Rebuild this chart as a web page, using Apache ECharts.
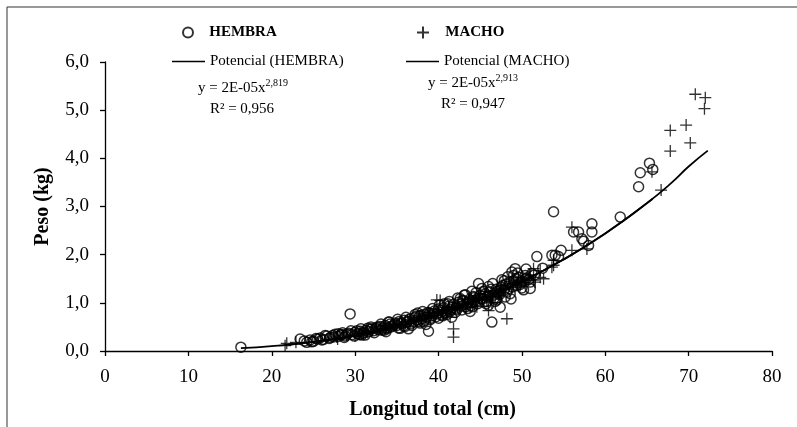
<!DOCTYPE html>
<html>
<head>
<meta charset="utf-8">
<script src="https://cdn.jsdelivr.net/npm/echarts@6/dist/echarts.min.js"></script>
<style>html,body{margin:0;padding:0;background:#fff}#c{width:797px;height:427px}</style>
</head>
<body>
<div id="c"></div>
<script>
const xTicks = [0, 10, 20, 30, 40, 50, 60, 70, 80];
const yTicks = [0, 1, 2, 3, 4, 5, 6];

const hembraX = [16.3,23.4,23.9,24.2,24.6,25.0,25.5,25.8,26.2,26.6,27.0,27.3,27.6,28.0,28.4,28.8,29.2,29.4,29.6,30.0,30.3,30.6,30.9,31.3,31.6,32.0,32.2,32.5,32.8,33.0,33.3,33.6,33.9,34.2,34.5,34.8,35.0,35.3,35.6,35.9,36.2,36.5,36.8,37.1,37.4,37.7,38.0,38.3,38.6,38.8,38.9,39.2,39.5,39.8,40.0,40.3,40.6,40.9,41.2,41.5,41.8,42.1,42.4,42.7,43.0,43.2,43.4,43.7,44.0,44.3,44.6,44.8,45.0,45.3,45.6,45.9,46.2,46.4,46.6,46.9,47.2,47.4,47.5,47.8,48.1,48.4,48.8,49.0,49.2,49.4,49.6,49.9,50.2,50.4,50.8,51.2,51.8,52.5,53.6,53.8,54.0,54.4,54.7,56.2,56.8,57.2,57.4,58.0,58.4,58.4,61.8,64.0,64.2,65.3,65.7,
  30.8,33.5,36.0,38.2,40.5,42.0,44.1,45.5,47.0,48.6,50.0,37.5,40.1,42.6,44.5,46.0,47.9,49.0,34.0,31.5,28.5,39.0,41.0,43.5,46.8,48.0,
  24.8,25.3,26.0,26.9,27.4,28.2,28.7,29.0,29.9,30.2,30.5,31.1,31.8,32.3,32.7,33.2,33.8,34.3,34.7,35.2,35.5,35.8,36.3,36.7,37.0,37.3,37.6,37.9,38.4,38.7,39.1,39.4,39.7,40.2,40.4,40.8,41.1,41.4,41.7,42.2,42.5,42.9,43.3,43.6,43.9,44.2,44.4,44.7,45.1,45.4,45.8,46.1,46.3,46.7,47.1,47.3,47.7,48.2,48.5,48.9,49.3,49.8,50.1,50.6,51.0,51.5,
  26.4,28.0,29.5,30.7,31.9,33.1,34.1,35.1,36.1,37.2,38.1,39.3,40.7,41.3,42.3,43.1,44.0,45.2,46.5,47.6,48.3,49.5,50.5,31.2,33.7,36.4,38.5,41.6,43.8,46.0,48.7,51.0,35.4,37.8,40.0,42.8,45.7,47.0];
const hembraY = [0.08,0.25,0.21,0.18,0.23,0.20,0.25,0.27,0.24,0.31,0.28,0.32,0.35,0.30,0.34,0.31,0.37,0.77,0.34,0.39,0.36,0.41,0.37,0.43,0.40,0.46,0.42,0.48,0.44,0.51,0.47,0.53,0.49,0.56,0.52,0.58,0.53,0.61,0.57,0.64,0.59,0.66,0.53,0.69,0.64,0.72,0.67,0.76,0.70,0.41,0.79,0.73,0.83,0.77,0.87,0.80,0.90,0.83,0.93,0.86,0.97,0.89,1.01,0.93,1.04,1.17,0.97,1.07,1.00,1.11,1.04,1.40,1.15,1.08,1.19,1.12,1.23,0.60,1.16,1.28,1.20,0.91,1.33,1.25,1.39,1.30,1.64,1.46,1.71,1.36,1.53,1.42,1.27,1.57,1.48,1.61,1.96,1.72,1.99,2.89,1.99,1.96,2.09,2.47,2.47,2.33,2.28,2.19,2.64,2.47,2.78,3.41,3.70,3.90,3.77,
  0.33,0.43,0.51,0.61,0.73,0.80,0.92,1.02,1.10,1.19,1.31,0.79,0.95,1.09,1.21,1.34,1.46,1.57,0.60,0.47,0.38,0.65,0.76,0.88,1.03,1.12,
  0.19,0.26,0.23,0.26,0.29,0.33,0.28,0.35,0.31,0.42,0.34,0.39,0.45,0.38,0.50,0.43,0.46,0.50,0.55,0.48,0.58,0.52,0.62,0.56,0.60,0.72,0.61,0.74,0.64,0.80,0.68,0.78,0.71,0.84,0.75,0.79,0.98,0.82,0.91,0.85,0.97,1.05,0.92,1.02,0.94,1.13,1.06,0.98,1.09,1.24,1.03,1.14,1.28,1.10,1.24,1.17,1.36,1.22,1.42,1.33,1.50,1.38,1.45,1.52,1.43,1.58,
  0.32,0.36,0.42,0.46,0.50,0.56,0.60,0.66,0.70,0.76,0.82,0.88,0.98,1.03,1.10,1.16,1.24,1.30,1.40,1.48,1.54,1.62,1.70,0.33,0.40,0.46,0.55,0.70,0.82,0.95,1.08,1.30,0.47,0.58,0.68,0.85,0.98,1.06];

const machoX = [21.6,21.8,22.9,27.8,27.9,29.0,30.5,31.5,32.0,33.0,34.0,35.0,36.0,37.0,38.0,39.0,39.8,40.2,40.5,41.0,41.4,41.8,41.8,42.0,42.5,43.0,43.5,44.0,44.5,45.0,45.3,45.5,46.0,46.2,46.5,47.0,47.5,48.0,48.2,48.5,49.0,49.5,50.0,50.5,51.4,51.4,51.6,52.2,52.2,52.6,53.6,53.8,53.8,56.0,56.0,57.8,65.6,66.7,67.8,67.8,69.7,70.2,70.8,72.0,71.9,
  30.0,31.0,32.6,33.6,34.6,35.6,36.6,37.6,38.5,39.4,40.0,40.8,41.6,42.3,43.2,43.8,44.3,44.8,45.8,46.8,47.3,47.8,48.8,49.3,49.8,50.3,50.8,
  33.4,36.3,38.8,41.2,43.6,45.6,47.6,49.6,50.9,44.6,46.4];
const machoY = [0.11,0.16,0.18,0.29,0.25,0.33,0.36,0.39,0.41,0.46,0.50,0.55,0.58,0.63,0.70,0.74,1.06,1.05,0.78,0.82,0.70,0.46,0.29,0.88,0.90,0.95,1.00,1.02,1.06,1.19,1.08,1.12,0.84,1.14,1.18,1.22,1.26,1.30,0.67,1.35,1.40,1.42,1.46,1.50,1.71,1.47,1.43,1.67,1.53,1.50,1.74,1.88,1.78,2.57,2.09,2.12,3.72,3.34,4.58,4.15,4.69,4.32,5.33,5.26,5.03,
  0.31,0.37,0.44,0.47,0.53,0.56,0.62,0.66,0.72,0.78,0.81,0.86,0.84,0.93,0.98,0.92,1.05,1.10,1.06,1.14,1.20,1.28,1.32,1.38,1.36,1.42,1.47,
  0.52,0.65,0.80,0.92,1.08,1.24,1.36,1.52,1.58,0.92,1.00];

const fitHembraX = [16.3, 20, 25, 30, 35, 40, 45, 50, 55, 60, 65.7];
const fitHembraY = [0.06, 0.10, 0.19, 0.32, 0.50, 0.75, 1.06, 1.44, 1.90, 2.44, 3.16];
const fitMachoX = [22, 25, 30, 35, 40, 45, 50, 55, 60, 65, 68, 70, 72.3];
const fitMachoY = [0.13, 0.19, 0.32, 0.50, 0.75, 1.06, 1.44, 1.90, 2.44, 3.07, 3.50, 3.83, 4.16];

const zip = (a, b) => a.map((v, i) => [v, b[i]]);
const FONT = 'Liberation Serif';
const plusPath = 'path://M0,6L12,6M6,0L6,12';

const chart = echarts.init(document.getElementById('c'), null, {renderer: 'canvas'});
const legendBase = {
  orient: 'horizontal', itemGap: 0, padding: 0,
  textStyle: {fontFamily: FONT, fontSize: 15, color: '#000'}
};
chart.setOption({
  backgroundColor: '#fff',
  animation: false,
  grid: {left: 105, right: 25, top: 62, bottom: 76, containLabel: false},
  xAxis: {
    type: 'value', min: xTicks[0], max: xTicks[xTicks.length - 1], interval: 10,
    name: 'Longitud total (cm)', nameLocation: 'middle', nameGap: 49,
    nameTextStyle: {fontFamily: FONT, fontSize: 20, fontWeight: 'bold', color: '#000', padding: [0, 12, 0, 0]},
    axisLine: {show: true, lineStyle: {color: '#000', width: 1.3}},
    axisTick: {show: true, length: 5, lineStyle: {color: '#000', width: 1.3}},
    axisLabel: {fontFamily: FONT, fontSize: 19, color: '#000', margin: 17},
    splitLine: {show: false}
  },
  yAxis: {
    type: 'value', min: yTicks[0], max: yTicks[yTicks.length - 1], interval: 1,
    name: 'Peso (kg)', nameLocation: 'middle', nameGap: 52, nameRotate: 90,
    nameTextStyle: {fontFamily: FONT, fontSize: 20, fontWeight: 'bold', color: '#000'},
    axisLine: {show: true, lineStyle: {color: '#000', width: 1.3}},
    axisTick: {show: true, length: 5, lineStyle: {color: '#000', width: 1.3}},
    axisLabel: {fontFamily: FONT, fontSize: 19, color: '#000', margin: 16,
      formatter: v => v.toFixed(1).replace('.', ',')},
    splitLine: {show: false}
  },
  legend: [
    Object.assign({}, legendBase, {data: ['HEMBRA'], left: 182, top: 25, itemWidth: 10, itemHeight: 10,
      formatter: n => '   ' + n, textStyle: {fontFamily: FONT, fontSize: 15, fontWeight: 'bold', color: '#000'}}),
    Object.assign({}, legendBase, {data: ['MACHO'], left: 416, top: 25, itemWidth: 12, itemHeight: 12,
      formatter: n => '   ' + n, textStyle: {fontFamily: FONT, fontSize: 15, fontWeight: 'bold', color: '#000'}}),
    Object.assign({}, legendBase, {data: [{name: 'Potencial (HEMBRA)', icon: 'rect'}], left: 172, top: 54, itemWidth: 33, itemHeight: 1.5}),
    Object.assign({}, legendBase, {data: [{name: 'Potencial (MACHO)', icon: 'rect'}], left: 406, top: 54, itemWidth: 33, itemHeight: 1.5})
  ],
  graphic: [
    {type: 'line', shape: {x1: 7, y1: 7, x2: 797, y2: 7}, style: {stroke: '#333', lineWidth: 1}},
    {type: 'line', shape: {x1: 7, y1: 7, x2: 7, y2: 427}, style: {stroke: '#333', lineWidth: 1}},
    {type: 'text', x: 243, y: 88, style: {
      text: '{a|y = 2E-05x}{s|2,819}', align: 'center', verticalAlign: 'middle',
      rich: {a: {fontFamily: FONT, fontSize: 15, fill: '#000'}, s: {fontFamily: FONT, fontSize: 10, fill: '#000', padding: [0, 0, 9, 0]}}}},
    {type: 'text', x: 242, y: 109, style: {
      text: 'R² = 0,956', align: 'center', verticalAlign: 'middle', fontFamily: FONT, fontSize: 15, fill: '#000'}},
    {type: 'text', x: 473, y: 83, style: {
      text: '{a|y = 2E-05x}{s|2,913}', align: 'center', verticalAlign: 'middle',
      rich: {a: {fontFamily: FONT, fontSize: 15, fill: '#000'}, s: {fontFamily: FONT, fontSize: 10, fill: '#000', padding: [0, 0, 9, 0]}}}},
    {type: 'text', x: 473, y: 104, style: {
      text: 'R² = 0,947', align: 'center', verticalAlign: 'middle', fontFamily: FONT, fontSize: 15, fill: '#000'}}
  ],
  series: [
    {name: 'HEMBRA', type: 'scatter', data: zip(hembraX, hembraY), symbol: 'circle', symbolSize: 10,
      itemStyle: {color: 'rgba(0,0,0,0)', borderColor: '#000', borderWidth: 1.5}, z: 2},
    {name: 'MACHO', type: 'scatter', data: zip(machoX, machoY), symbol: plusPath, symbolSize: 12,
      itemStyle: {color: 'rgba(0,0,0,0)', borderColor: '#000', borderWidth: 1.3}, z: 3},
    {name: 'Potencial (HEMBRA)', type: 'line', data: zip(fitHembraX, fitHembraY), smooth: true, symbol: 'none',
      lineStyle: {color: '#000', width: 1.8}, itemStyle: {color: '#000'}, z: 4},
    {name: 'Potencial (MACHO)', type: 'line', data: zip(fitMachoX, fitMachoY), smooth: true, symbol: 'none',
      lineStyle: {color: '#000', width: 1.8}, itemStyle: {color: '#000'}, z: 4}
  ]
});
</script>
</body>
</html>
